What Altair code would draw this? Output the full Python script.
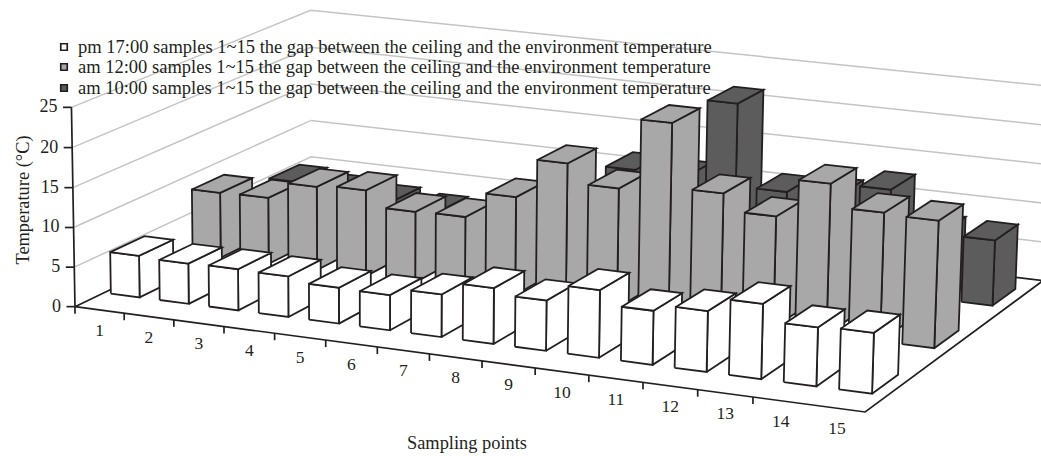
import altair as alt
import numpy as np
import pandas as pd

W, H = 1041, 456
INK = "#231f20"
GRID = "#c4c4c4"
FONT = "Liberation Serif"

categories = [str(i) for i in range(1, 16)]
series_names = [
    "pm 17:00 samples 1~15 the gap between the ceiling and the environment temperature",
    "am 12:00 samples 1~15 the gap between the ceiling and the environment temperature",
    "am 10:00 samples 1~15 the gap between the ceiling and the environment temperature",
]
series_colors = ["#ffffff", "#a8a8a8", "#5c5c5c"]

pm_17 = [5.3, 5.1, 5.2, 5.1, 4.5, 4.4, 5.3, 6.9, 6.2, 8.3, 6.6, 7.4, 9.1, 7.1, 7.3]
am_12 = [8.5, 8.6, 10.8, 11.1, 9.1, 9.2, 12.5, 17.5, 15.1, 24.0, 16.0, 13.9, 18.7, 15.9, 15.7]
am_10 = [5.2, 4.6, 4.0, 3.5, 3.0, 4.0, 5.0, 12.0, 11.8, 22.0, 11.4, 11.7, 13.2, 8.5, 8.3]
rows = [pm_17, am_12, am_10]

y_ticks = [0, 5, 10, 15, 20, 25]

# Camera: reference points in the world (category, depth, temperature) and their screen spots.
N_CAT, N_ROW, Z_MAX = 15, 3, 25
world = [
    (0, 0, 0), (0, 0, 25), (0, 3, 0), (0, 3, 25), (15, 3, 0), (15, 3, 25), (15, 0, 0),
    (14.14, 2.34, 0), (14.14, 1.34, 0), (14.14, 0.34, 0), (0.14, 0.34, 0), (4.14, 1.34, 0),
]
screen = [
    (76, 306), (72, 108), (312, 194), (310, 10), (1041, 280), (1051, 86), (864, 411),
    (963, 303), (904, 344), (839, 391), (109, 294), (386, 277),
]


def fit_camera(world_pts, screen_pts):
    eqs = []
    for (a, b, c), (sx, sy) in zip(world_pts, screen_pts):
        p = [a / N_CAT, b / N_ROW, c / Z_MAX, 1.0]
        sx, sy = sx / 1000, sy / 1000
        eqs.append(p + [0, 0, 0, 0] + [-sx * q for q in p])
        eqs.append([0, 0, 0, 0] + p + [-sy * q for q in p])
    return np.linalg.svd(np.array(eqs))[2][-1].reshape(3, 4)


CAM = fit_camera(world, screen)


def project(a, b, c):
    v = CAM @ np.array([a / N_CAT, b / N_ROW, c / Z_MAX, 1.0])
    return 1000 * v[0] / v[2], 1000 * v[1] / v[2]


BAR_U = (0.14, 0.73)
BAR_V = (0.34, 0.75)

# Filled faces of the bars, back row first and left to right within a row.
face_rows = []
poly = 0


def add_face(corners, color):
    global poly
    for k, c in enumerate(list(corners) + [corners[0]]):
        px, py = project(*c)
        face_rows.append({"poly": poly, "ord": k, "x": px, "y": py, "col": color})
    poly += 1


for r in reversed(range(N_ROW)):
    for i, val in enumerate(rows[r]):
        u0, u1 = i + BAR_U[0], i + BAR_U[1]
        v0, v1 = r + BAR_V[0], r + BAR_V[1]
        color = series_colors[r]
        add_face([(u1, v0, 0), (u1, v1, 0), (u1, v1, val), (u1, v0, val)], color)
        add_face([(u0, v0, 0), (u1, v0, 0), (u1, v0, val), (u0, v0, val)], color)
        add_face([(u0, v0, val), (u1, v0, val), (u1, v1, val), (u0, v1, val)], color)
faces = pd.DataFrame(face_rows)

# Wall gridlines, floor outline, temperature axis and tick marks.
grid_rows = []
for t in y_ticks[1:]:
    for k, c in enumerate([(0, 0, t), (0, 3, t), (15, 3, t)]):
        px, py = project(*c)
        grid_rows.append({"line": t, "ord": k, "x": px, "y": py})
grid = pd.DataFrame(grid_rows)

frame_rows = []
for k, c in enumerate([(0, 0, 0), (15, 0, 0), (15, 3, 0), (0, 3, 0), (0, 0, 0)]):
    px, py = project(*c)
    frame_rows.append({"line": "floor", "ord": k, "x": px, "y": py})
for k, c in enumerate([(0, 0, 0), (0, 0, 25)]):
    px, py = project(*c)
    frame_rows.append({"line": "axis", "ord": k, "x": px, "y": py})
for t in y_ticks:
    px, py = project(0, 0, t)
    frame_rows.append({"line": f"yt{t}", "ord": 0, "x": px, "y": py})
    frame_rows.append({"line": f"yt{t}", "ord": 1, "x": px - 8.5, "y": py})
for i in range(14):
    px, py = project(i, 0, 0)
    frame_rows.append({"line": f"xt{i}", "ord": 0, "x": px, "y": py})
    frame_rows.append({"line": f"xt{i}", "ord": 1, "x": px, "y": py + 7})
frame = pd.DataFrame(frame_rows)

y_labels = pd.DataFrame(
    [
        {"x": project(0, 0, t)[0] - 14, "y": project(0, 0, t)[1], "t": str(t)}
        for t in y_ticks
    ]
)
x_labels = pd.DataFrame(
    [
        {"x": project(i + 0.5, 0, 0)[0], "y": project(i + 0.5, 0, 0)[1] + 21, "t": c}
        for i, c in enumerate(categories)
    ]
)
legend = pd.DataFrame(
    {
        "x": [64, 64, 64],
        "y": [47, 67, 88],
        "tx": [78, 78, 78],
        "t": series_names,
        "col": series_colors,
    }
)

X = alt.X("x:Q", scale=alt.Scale(domain=[0, W]), axis=None)
Y = alt.Y("y:Q", scale=alt.Scale(domain=[H, 0]), axis=None)

grid_layer = alt.Chart(grid).mark_line(stroke=GRID, strokeWidth=1.5).encode(
    x=X, y=Y, order="ord:Q", detail="line:N"
)
frame_layer = alt.Chart(frame).mark_line(stroke=INK, strokeWidth=1.7).encode(
    x=X, y=Y, order="ord:Q", detail="line:N"
)
face_layer = alt.Chart(faces).mark_line(
    stroke=INK, strokeWidth=1.8, strokeJoin="miter"
).encode(
    x=X,
    y=Y,
    order="ord:Q",
    detail="poly:N",
    fill=alt.Fill("col:N", scale=None),
)
y_text = alt.Chart(y_labels).mark_text(
    font=FONT, fontSize=18, align="right", baseline="middle", color=INK
).encode(x=X, y=Y, text="t:N")
x_text = alt.Chart(x_labels).mark_text(
    font=FONT, fontSize=17.5, align="center", baseline="middle", color=INK
).encode(x=X, y=Y, text="t:N")
legend_marks = alt.Chart(legend).mark_point(
    shape="square", size=42, filled=True, stroke=INK, strokeWidth=1.7, opacity=1
).encode(x=X, y=Y, fill=alt.Fill("col:N", scale=None))
legend_text = alt.Chart(legend).mark_text(
    font=FONT, fontSize=18.5, align="left", baseline="middle", color=INK
).encode(x=alt.X("tx:Q", scale=alt.Scale(domain=[0, W]), axis=None), y=Y, text="t:N")
x_title = alt.Chart(pd.DataFrame({"x": [467], "y": [443], "t": ["Sampling points"]})).mark_text(
    font=FONT, fontSize=18.4, align="center", baseline="middle", color=INK
).encode(x=X, y=Y, text="t:N")
y_title = alt.Chart(pd.DataFrame({"x": [23], "y": [200], "t": ["Temperature (°C)"]})).mark_text(
    font=FONT, fontSize=18.4, align="center", baseline="middle", color=INK, angle=270
).encode(x=X, y=Y, text="t:N")

chart = (
    alt.layer(
        grid_layer, frame_layer, face_layer, y_text, x_text,
        legend_marks, legend_text, x_title, y_title,
    )
    .properties(width=W, height=H, padding=0, autosize=alt.AutoSizeParams(type="none"), background="white")
    .configure_view(stroke=None)
)
chart.save("out.html", embed_options={"renderer": "svg", "actions": False})
